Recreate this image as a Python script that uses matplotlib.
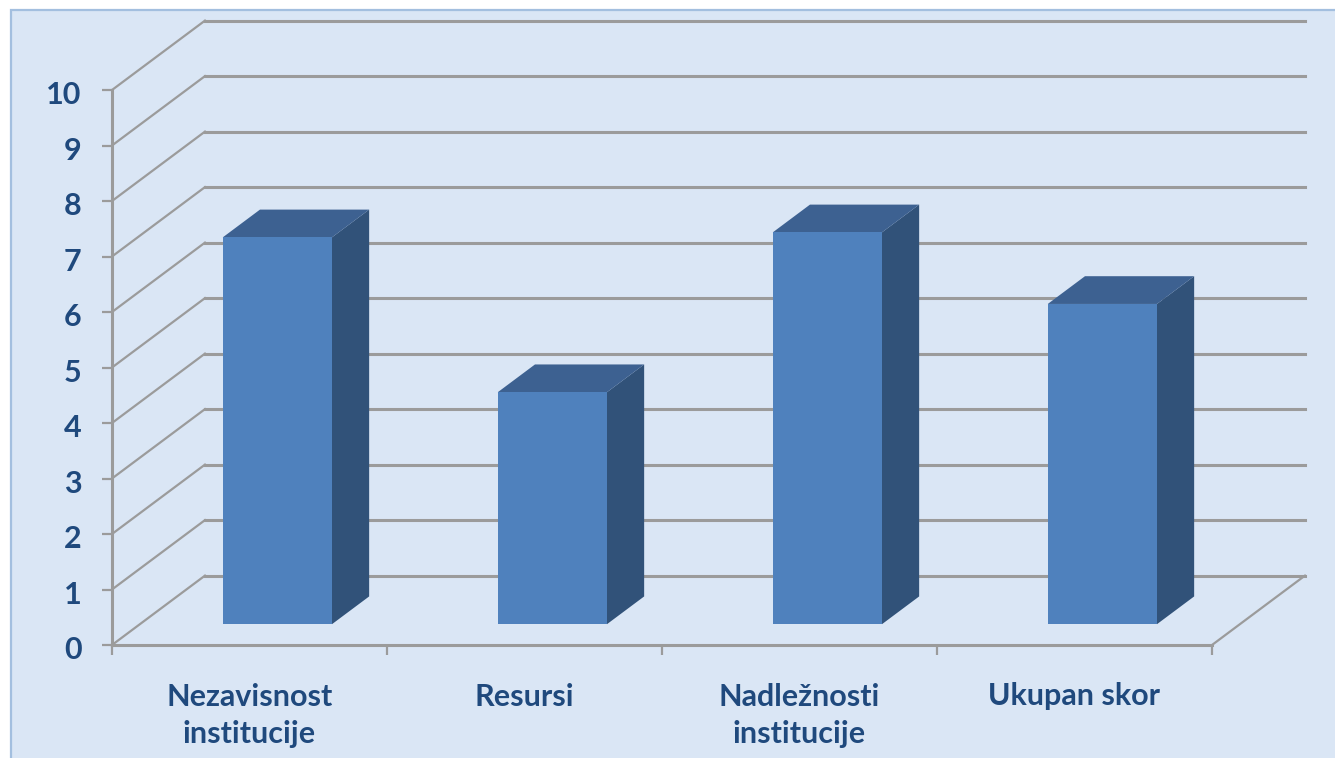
import matplotlib
matplotlib.use('Agg')
import matplotlib.pyplot as plt
from matplotlib.patches import Rectangle
from matplotlib.transforms import ScaledTranslation

# chart values
categories = ['Nezavisnost\ninstitucije', 'Resursi', 'Nadležnosti\ninstitucije', 'Ukupan skor']
values = [6.97, 4.18, 7.06, 5.77]
y_ticks = [0, 1, 2, 3, 4, 5, 6, 7, 8, 9, 10]

W, H = 1335, 758
TEXT = '#1f497d'
GRID = '#9b9b9b'

# oblique projection of the 3D walls, in data units
DEPTH_X = 0.338
DEPTH_Y = 1.25
BAR_W = 0.397
D0, D1 = 0.3, 0.7  # bar extent along the depth axis


def proj(x, y, d):
    """Move a point (x, y) back by d along the depth axis."""
    return x + d * DEPTH_X, y + d * DEPTH_Y


fig = plt.figure(figsize=(W / 100, H / 100), dpi=100, facecolor='white')
fig.patches.append(Rectangle((11 / W, -0.05), 1.1, 1.05 - 10 / H, transform=fig.transFigure,
                             facecolor='#dae6f5', edgecolor='#a3bfdf', linewidth=1.6, zorder=-1))

ax = fig.add_axes([112 / W, (H - 645) / H, 1100 / W, 555 / H])
ax.patch.set_visible(False)
ax.set_xlim(0, len(categories))
ax.set_ylim(0, y_ticks[-1])

for s in ['top', 'right']:
    ax.spines[s].set_visible(False)
for s in ['left', 'bottom']:
    ax.spines[s].set_color(GRID)
    ax.spines[s].set_linewidth(2.2)

# walls
n = len(categories)
for y in y_ticks:
    bx, by = proj(0, y, 1)
    ex, ey = proj(n, y, 1)
    ax.plot([0, bx], [y, by], color=GRID, lw=1.6, clip_on=False, zorder=1)
    ax.plot([bx, ex], [by, ey], color=GRID, lw=2.2, clip_on=False, zorder=1)
ex, ey = proj(n, 0, 1)
ax.plot([n, ex], [0, ey], color=GRID, lw=1.6, clip_on=False, zorder=1)

# bars: side, top, then front face
for i, v in enumerate(values):
    x0 = i + (1 - BAR_W) / 2
    x1 = x0 + BAR_W
    fl = proj(x0, 0, D0)
    fr = proj(x1, 0, D0)
    tl = proj(x0, v, D0)
    tr = proj(x1, v, D0)
    br = proj(x1, 0, D1)
    btr = proj(x1, v, D1)
    btl = proj(x0, v, D1)
    ax.fill(*zip(fr, br, btr, tr), facecolor='#315279', edgecolor='none', clip_on=False, zorder=3)
    ax.fill(*zip(tl, tr, btr, btl), facecolor='#3d6191', edgecolor='none', clip_on=False, zorder=3)
    ax.fill(*zip(fl, fr, tr, tl), facecolor='#4f81bd', edgecolor='none', clip_on=False, zorder=4)

ax.set_yticks(y_ticks)
ax.set_yticklabels([str(t) for t in y_ticks], fontfamily='Lato', fontweight='bold', fontsize=22, color=TEXT)
ax.tick_params(axis='y', length=7, width=1.6, color=GRID, pad=15)
for label in ax.get_yticklabels():
    label.set_transform(label.get_transform() + ScaledTranslation(0, -2 / 72, fig.dpi_scale_trans))

ax.set_xticks(range(n + 1))
ax.set_xticklabels([])
ax.set_xticks([i + 0.5 for i in range(n)], minor=True)
ax.set_xticklabels(categories, minor=True, fontfamily='Lato', fontweight='bold', fontsize=22,
                   color=TEXT, linespacing=1.42)
ax.tick_params(axis='x', which='major', length=7, width=1.6, color=GRID)
ax.tick_params(axis='x', which='minor', length=0, pad=27)

fig.savefig('out.png', dpi=100)
